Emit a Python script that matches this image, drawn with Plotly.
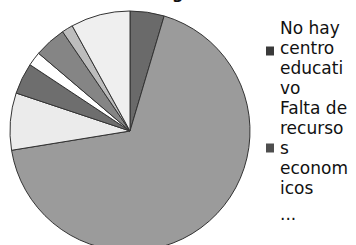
import plotly.graph_objects as go

# ---- data ----
slice_values = [4.6, 67.9, 7.7, 4.2, 1.9, 4.3, 1.5, 8.0]
slice_colors = ["#6a6a6a", "#9b9b9b", "#ebebeb", "#6e6e6e", "#ffffff", "#858585", "#bdbdbd", "#efefef"]
legend_labels = [
    ["No hay", "centro", "educati", "vo"],
    ["Falta de", "recurso", "s", "econom", "icos"],
]
legend_marker_colors = ["#3a3a3a", "#4e4e4e"]
more_text = "..."
title_fragment = "g"

W, H = 356, 262


def px(x):
    return x / W


def py(y):
    return 1 - y / H


fig = go.Figure()
fig.add_trace(go.Pie(
    values=slice_values,
    sort=False,
    direction="clockwise",
    rotation=0,
    textinfo="none",
    hoverinfo="value+percent",
    marker=dict(colors=slice_colors, line=dict(color="#333333", width=1)),
    domain=dict(x=[px(10), px(250)], y=[py(251), py(11)]),
    showlegend=False,
))

annotations = []
shapes = []
line_h = 20
y0 = 28
font = dict(family="DejaVu Sans", size=17, color="#111111")
marker_line = [1, 2]  # line (within entry) next to which the legend key sits
marker_shift = [3, 0]
line_idx = 0
for k, lines in enumerate(legend_labels):
    start = line_idx
    for t in lines:
        annotations.append(dict(
            x=px(278), y=py(y0 + line_idx * line_h), xref="paper", yref="paper",
            text=t, showarrow=False, xanchor="left", yanchor="middle", font=font,
        ))
        line_idx += 1
    mid = y0 + (start + marker_line[k]) * line_h + marker_shift[k]
    shapes.append(dict(
        type="rect", xref="paper", yref="paper",
        x0=px(266), x1=px(274), y0=py(mid - 4.5), y1=py(mid + 4.5),
        fillcolor=legend_marker_colors[k], line=dict(width=0),
    ))

annotations.append(dict(
    x=px(278), y=py(214), xref="paper", yref="paper", text=more_text,
    showarrow=False, xanchor="left", yanchor="middle", font=font,
))
annotations.append(dict(
    x=px(177), y=py(5), xref="paper", yref="paper", text=title_fragment,
    showarrow=False, xanchor="center", yanchor="bottom",
    font=dict(family="DejaVu Sans", size=16, color="#111111", weight="bold"),
))

fig.update_layout(
    width=W, height=H,
    margin=dict(l=0, r=0, t=0, b=0, autoexpand=False),
    paper_bgcolor="white", plot_bgcolor="white",
    annotations=annotations, shapes=shapes,
)

fig.write_html(
    "out.html",
    config={"displayModeBar": False},
    post_script=(
        "document.documentElement.style.overflow='hidden';"
        "document.body.style.overflow='hidden';"
        "document.body.style.margin='0';"
    ),
)
